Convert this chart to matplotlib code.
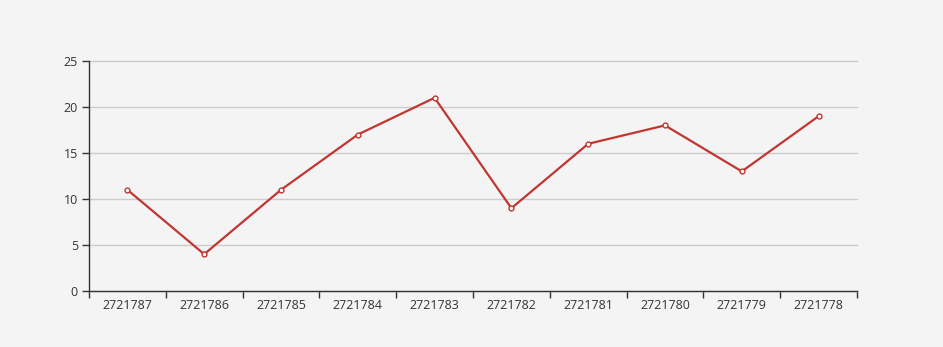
import numpy as np
import matplotlib.pyplot as plt

categories = ["2721787", "2721786", "2721785", "2721784", "2721783",
              "2721782", "2721781", "2721780", "2721779", "2721778"]
values = [11, 4, 11, 17, 21, 9, 16, 18, 13, 19]
y_ticks = [0, 5, 10, 15, 20, 25]

W, H = 943, 347
fig = plt.figure(figsize=(W / 100, H / 100), dpi=100, facecolor="#f4f4f4")
ax = fig.add_axes([89 / W, (H - 291) / H, (857 - 89) / W, (291 - 61) / H])
ax.set_facecolor("#f4f4f4")

x = np.arange(len(categories))
ax.plot(x, values, color="#c23531", lw=1.6, marker="o", ms=3.5,
        mfc="white", mec="#c23531", mew=1, zorder=3, clip_on=False)

ax.set_xlim(-0.5, len(categories) - 0.5)
ax.set_ylim(0, 25)
ax.set_yticks(y_ticks)
ax.set_xticks(x)
ax.set_xticklabels(categories)
ax.set_xticks(np.arange(len(categories) + 1) - 0.5, minor=True)
ax.tick_params(axis="x", which="major", length=0, pad=6)
ax.tick_params(axis="x", which="minor", length=5, color="#333333", width=1)
ax.tick_params(axis="y", length=5, color="#333333", width=1, pad=3)
ax.tick_params(labelsize=9, labelcolor="#333333")
for lab in ax.get_xticklabels() + ax.get_yticklabels():
    lab.set_fontfamily(["Open Sans", "DejaVu Sans"])

ax.grid(axis="y", color="#cccccc", lw=1)
for gl in ax.get_ygridlines():
    gl.set_clip_on(False)
ax.set_axisbelow(True)
for s in ["top", "right"]:
    ax.spines[s].set_visible(False)
for s in ["left", "bottom"]:
    ax.spines[s].set_color("#333333")
    ax.spines[s].set_linewidth(1)

fig.savefig("out.png", dpi=100, facecolor=fig.get_facecolor())
